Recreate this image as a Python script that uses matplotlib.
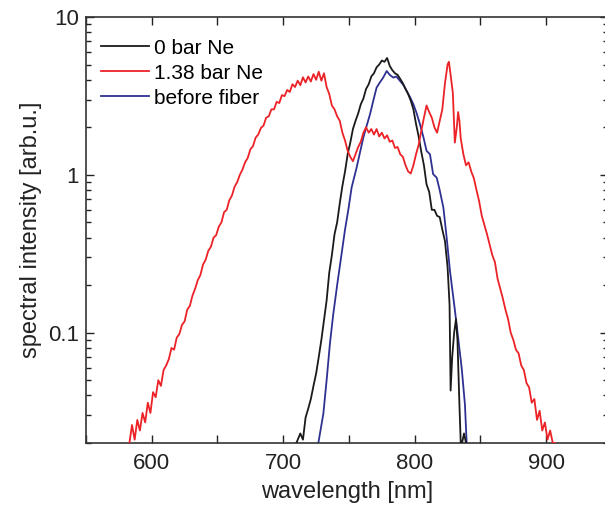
import matplotlib
matplotlib.use("Agg")
import matplotlib.pyplot as plt
from matplotlib.ticker import LogLocator, NullFormatter, FixedLocator, MultipleLocator

plt.rcParams['font.family'] = ['Liberation Sans', 'DejaVu Sans']

# 1.38 bar Ne (red)
red_wl = [583, 585, 587, 589, 591, 593, 595, 597, 599, 601, 603, 605, 607, 609, 611, 613, 615, 617,
          619, 621, 623, 625, 627, 629, 631, 633, 635, 637, 639, 641, 643, 645, 647, 649, 651, 653,
          655, 657, 659, 661, 663, 665, 667, 669, 671, 673, 675, 677, 679, 681, 683, 685, 687, 689,
          691, 693, 695, 697, 699, 701, 703, 705, 707, 709, 711, 713, 715, 717, 719, 721, 723, 725,
          727, 729, 731, 733, 735, 737, 739, 741, 743, 745, 747, 749, 751, 753, 755, 757, 759, 761,
          763, 765, 767, 769, 771, 773, 775, 777, 779, 781, 783, 785, 787, 789, 791, 793, 795, 797,
          799, 801, 803, 805, 807, 809, 811, 813, 815, 817, 819, 821, 823, 825, 826, 827, 829, 830.5,
          832, 833, 834, 835, 837, 839, 841, 843, 845, 847, 849, 851, 853, 855, 857, 859, 861, 863,
          865, 867, 869, 871, 873, 875, 877, 879, 881, 883, 885, 887, 889, 891, 893, 895, 897, 899,
          901, 903, 905, 907]
red_val = [0.02, 0.026, 0.021, 0.028, 0.024, 0.031, 0.027, 0.036, 0.031, 0.042, 0.039, 0.05, 0.046,
           0.058, 0.062, 0.068, 0.08, 0.078, 0.093, 0.098, 0.112, 0.118, 0.14, 0.148, 0.172, 0.19,
           0.215, 0.232, 0.27, 0.29, 0.33, 0.35, 0.4, 0.415, 0.47, 0.5, 0.58, 0.6, 0.69, 0.74, 0.84,
           0.9, 1.0, 1.08, 1.2, 1.28, 1.45, 1.52, 1.72, 1.8, 1.98, 2.05, 2.3, 2.35, 2.6, 2.6, 2.9,
           2.85, 3.2, 3.15, 3.45, 3.35, 3.75, 3.6, 3.95, 3.7, 4.15, 3.85, 4.2, 3.9, 4.35, 4.0, 4.5,
           3.95, 4.4, 3.6, 3.25, 2.75, 2.6, 2.35, 2.2, 1.85, 1.65, 1.42, 1.3, 1.22, 1.35, 1.5, 1.62,
           1.85, 2.0, 1.85, 1.95, 1.8, 1.95, 1.75, 1.85, 1.7, 1.78, 1.62, 1.65, 1.48, 1.5, 1.35, 1.3,
           1.15, 1.05, 1.02, 1.15, 1.35, 1.55, 1.9, 2.3, 2.75, 2.5, 2.3, 2.0, 1.85, 2.2, 2.6, 3.8,
           5.0, 5.2, 4.5, 3.3, 1.6, 2.0, 2.5, 2.2, 1.7, 1.35, 1.15, 1.2, 1.05, 0.95, 0.8, 0.68, 0.55,
           0.48, 0.42, 0.36, 0.31, 0.28, 0.22, 0.19, 0.165, 0.14, 0.122, 0.1, 0.09, 0.078, 0.074,
           0.062, 0.058, 0.048, 0.045, 0.036, 0.038, 0.028, 0.032, 0.024, 0.027, 0.021, 0.024, 0.02,
           0.02]

# 0 bar Ne (black)
black_wl = [710, 713, 715, 717, 719, 721, 723, 725, 727, 729, 731, 733, 735, 737, 739, 741, 743, 745,
            747, 749, 751, 753, 755, 757, 759, 761, 763, 765, 767, 769, 771, 773, 775, 777, 779, 781,
            783, 785, 787, 789, 791, 793, 795, 797, 799, 801, 803, 805, 807, 809, 811, 813, 815, 817,
            819, 821, 823, 825, 826.5, 827.3, 828.5, 830, 831.4, 832.5, 834, 835, 836, 837.5, 839]
black_val = [0.02, 0.023, 0.021, 0.029, 0.033, 0.038, 0.046, 0.055, 0.07, 0.09, 0.12, 0.16, 0.24,
             0.31, 0.42, 0.5, 0.66, 0.85, 1.05, 1.35, 1.6, 1.95, 2.2, 2.45, 2.8, 3.05, 3.5, 3.75, 4.2,
             4.4, 4.8, 5.0, 5.3, 5.2, 5.5, 4.9, 4.6, 4.4, 4.3, 4.05, 3.8, 3.5, 3.25, 2.95, 2.6, 2.1,
             1.75, 1.4, 1.15, 0.87, 0.78, 0.6, 0.6, 0.55, 0.54, 0.45, 0.38, 0.26, 0.15, 0.043, 0.07,
             0.1, 0.122, 0.09, 0.035, 0.02, 0.02, 0.023, 0.02]

# before fiber (blue)
blue_wl = [726.7, 730.5, 733, 735.5, 738, 741, 744, 747, 749.5, 752, 755.8, 758.5, 760.9, 763.5, 766,
           768.5, 771, 773.5, 776, 778.7, 781, 783.7, 786, 788.8, 791.5, 793.9, 796.5, 799, 801.5,
           804, 806.5, 809, 811.6, 814, 816.7, 819, 821.8, 824.3, 826.8, 828.5, 830.6, 833, 835.7,
           838.2, 839.5]
blue_val = [0.02, 0.0306, 0.05, 0.085, 0.13, 0.2, 0.3, 0.45, 0.6, 0.83, 1.11, 1.4, 1.72, 2.05, 2.42,
            2.95, 3.57, 3.85, 4.13, 4.55, 4.3, 4.13, 4.2, 3.94, 3.7, 3.4, 3.1, 2.8, 2.45, 2.09, 1.75,
            1.42, 1.35, 1.01, 0.96, 0.8, 0.62, 0.40, 0.247, 0.19, 0.138, 0.093, 0.06, 0.035, 0.02]

labels = ["0 bar Ne", "1.38 bar Ne", "before fiber"]
x_ticks = [600, 700, 800, 900]

fig = plt.figure(figsize=(6.05, 5.14), dpi=100)
W, H = 605, 514
left_px, right_px, top_px, bot_px = 86, 608, 17, 443
aw, ah = right_px - left_px, bot_px - top_px
ax = fig.add_axes([left_px / W, 1 - bot_px / H, aw / W, ah / H])

c_black = '#1a1a1a'
c_red = '#ec2227'
c_blue = '#2e3192'

lb, = ax.plot(black_wl, black_val, color=c_black, lw=1.3, zorder=3)
lr, = ax.plot(red_wl, red_val, color=c_red, lw=1.3, zorder=4)
lu, = ax.plot(blue_wl, blue_val, color=c_blue, lw=1.3, zorder=2)

ax.set_yscale('log')
ax.set_xlim(550, 947)
ax.set_ylim(0.02, 10)

ax.xaxis.set_major_locator(FixedLocator(x_ticks))
ax.xaxis.set_minor_locator(MultipleLocator(50))
ax.yaxis.set_minor_locator(LogLocator(base=10, subs=range(2, 10), numticks=20))
ax.yaxis.set_minor_formatter(NullFormatter())
ax.set_yticks([0.1, 1, 10])
ax.set_yticklabels(['0.1', '1', '10'])
ax.set_xticklabels([str(t) for t in x_ticks])

ax.tick_params(which='both', direction='in', top=True, right=True, colors='#222222',
               labelcolor='#222222', labelsize=16, width=1.0)
ax.tick_params(which='major', length=6)
ax.tick_params(axis='x', which='major', pad=7)
ax.tick_params(axis='y', which='major', pad=5)
ax.tick_params(axis='x', which='minor', length=6)
ax.tick_params(axis='y', which='minor', length=3.5)
for s in ax.spines.values():
    s.set_color('#333333')
    s.set_linewidth(1.2)

ax.set_xlabel('wavelength [nm]', fontsize=17, color='#222222', labelpad=5)
ax.set_ylabel('spectral intensity [arb.u.]', fontsize=17, color='#222222', labelpad=4)

ax.legend([lb, lr, lu], labels, loc='upper left', frameon=False, fontsize=15,
          handlelength=2.3, handletextpad=0.25, labelspacing=0.29,
          bbox_to_anchor=(-2 / aw, 1 - 5 / ah), borderaxespad=0.4)

fig.savefig('out.png', dpi=100)
